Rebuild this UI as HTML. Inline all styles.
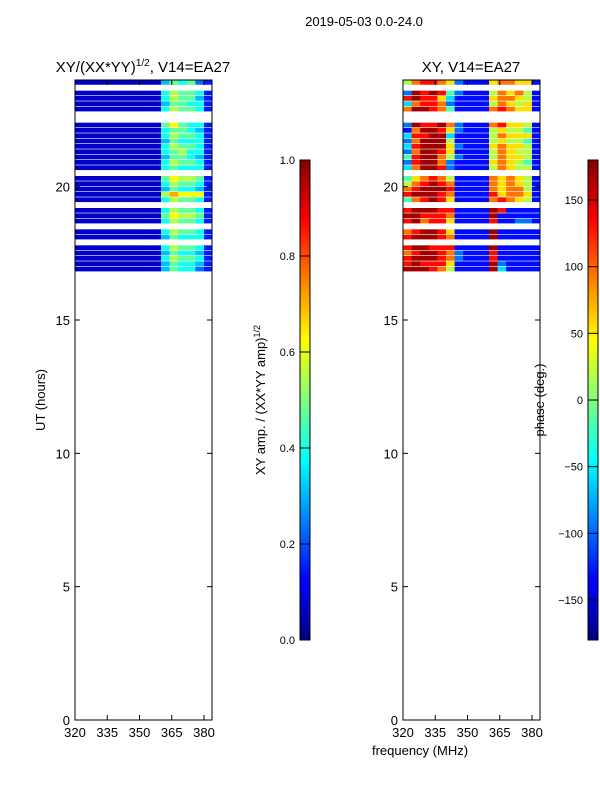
<!DOCTYPE html>
<html><head><meta charset="utf-8"><style>
body{margin:0;background:#fff;width:600px;height:800px;overflow:hidden}
svg text{font-family:"Liberation Sans",sans-serif;fill:#000}
</style></head><body>
<svg id="chart" width="600" height="800">
<text x="364" y="26" font-size="13" text-anchor="middle">2019-05-03 0.0-24.0</text>
<text x="143" y="72" font-size="15" text-anchor="middle">XY/(XX*YY)<tspan font-size="10" dy="-6">1/2</tspan><tspan dy="6">, V14=EA27</tspan></text>
<text x="471" y="72" font-size="15" text-anchor="middle">XY, V14=EA27</text>
<text transform="translate(45,400) rotate(-90)" font-size="13" text-anchor="middle">UT (hours)</text>
<text x="420" y="755" font-size="13" text-anchor="middle">frequency (MHz)</text>
<text transform="translate(265,400) rotate(-90)" font-size="13" text-anchor="middle">XY amp. / (XX*YY amp)<tspan font-size="9" dy="-5">1/2</tspan></text>
<text transform="translate(544,400) rotate(-90)" font-size="13" text-anchor="middle">phase (deg.)</text>
<g id="left"></g>
<g id="right"></g>
<g id="cbars"></g>
</svg>
<script>
const tMax = 24.0, rowHours = 0.2;
const freqStart = 320, chanWidth = 4;
const yTicks = [0, 5, 10, 15, 20];
const xTicks = [320, 335, 350, 365, 380];
const ampTicks = [0.0, 0.2, 0.4, 0.6, 0.8, 1.0];
const phaseTicks = [-150, -100, -50, 0, 50, 100, 150];
// amplitude rows (top = 24h), digit 0-9, g = flagged
const ampRows = ["0000000000354521","g","0000000000465541","0000000000465531","0000000000355441","0000000000465541","g","g",
"0000000000575441","0000000000455431","0000000000465541","0000000000354441","0000000000465541","0000000000456441","0000000000355431","0000000000465541","0000000000454441","g",
"0000000000576651","0000000000465541","0000000000354431","0000000000687771","0000000000465541","g","0000000000465541","0000000000576651","0000000000465541","g",
"0000000000465541","0000000000354441","g","0000000000465541","0000000000354431","0000000000465541","0000000000354431","0000000000354421"];
// phase rows digit 0-9 maps -180..180
const phaseRows = ["5788762111677661","g","2989842111576751","8988631111677651","3788721111576561","7998741111787661","g","g",
"2988972111786651","1799862111565541","3889931111576661","2799951111565541","3899962111676651","2799861111576551","4899752111576651","2899721111676541","3799821111576551","g",
"4678751111767651","5789871111767651","7899981111767751","8999871111867761","4789861111787651","g","8999881111981111","9988871111911111","8978861111811221","g",
"7899861111911111","8999871111911111","g","8998881111911111","7899872111811111","8999872111811111","8988861111921111","9998751111931111"];

function jet(v){v=Math.max(0,Math.min(1,v));
 const c=x=>Math.round(255*Math.max(0,Math.min(1,1.5-Math.abs(4*v-x))));
 return `rgb(${c(3)},${c(2)},${c(1)})`;}
const NS="http://www.w3.org/2000/svg";
function mk(p,tag,a){const e=document.createElementNS(NS,tag);for(const k in a)e.setAttribute(k,a[k]);p.appendChild(e);return e;}

function panel(g,x0,rows,toVal){
 const w=137,top=80,bot=720,pxH=(bot-top)/24;
 const xs=f=>x0+(f-320)*129/60, ys=t=>bot-t*pxH;
 rows.forEach((r,i)=>{ if(r==="g")return;
  const t1=tMax-i*rowHours, t0=t1-rowHours;
  for(let j=0;j<r.length;j++){
   const f0=freqStart+j*chanWidth, f1=f0+chanWidth;
   const e=mk(g,"rect",{x:xs(f0),y:ys(t1),width:Math.min(xs(f1),x0+w)-xs(f0)+0.3,height:ys(t0)-ys(t1)-0.6,fill:jet(toVal(+r[j]))});
   
   
  }});
 mk(g,"rect",{x:x0,y:top,width:w,height:bot-top,fill:"none",stroke:"#000","stroke-width":1});
 yTicks.forEach(t=>{mk(g,"line",{x1:x0,x2:x0+5,y1:ys(t),y2:ys(t),stroke:"#000"});mk(g,"line",{x1:x0+w,x2:x0+w-5,y1:ys(t),y2:ys(t),stroke:"#000"});
  const l=mk(g,"text",{x:x0-5,y:ys(t)+5,"font-size":13,"text-anchor":"end"});l.textContent=t;
  
  });
 xTicks.forEach(f=>{mk(g,"line",{x1:xs(f),x2:xs(f),y1:bot,y2:bot-5,stroke:"#000"});mk(g,"line",{x1:xs(f),x2:xs(f),y1:top,y2:top+5,stroke:"#000"});
  const l=mk(g,"text",{x:xs(f),y:bot+17,"font-size":13,"text-anchor":"middle"});l.textContent=f;
  
  });
}
panel(document.getElementById("left"),75,ampRows,d=>0.07+d/9*0.72);
panel(document.getElementById("right"),403,phaseRows,d=>0.03+d/9*0.94);

function cbar(x,min,max,ticks,fmt){
 const g=document.getElementById("cbars"),top=160,bot=640,n=120;
 for(let i=0;i<n;i++){mk(g,"rect",{x:x,y:bot-(i+1)*(bot-top)/n,width:10,height:(bot-top)/n+0.5,fill:jet((i+0.5)/n)});}
 mk(g,"rect",{x:x,y:top,width:10,height:bot-top,fill:"none",stroke:"#000"});
 ticks.forEach(v=>{const y=bot-(v-min)/(max-min)*(bot-top);
  mk(g,"line",{x1:x,x2:x+10,y1:y,y2:y,stroke:"#000"});
  const l=mk(g,"text",{x:x-5,y:y+4,"font-size":11,"text-anchor":"end"});l.textContent=fmt(v);
  
  });
}
cbar(300,0,1,ampTicks,v=>v.toFixed(1));
cbar(588,-180,180,phaseTicks,v=>v<0?"\u2212"+(-v):""+v);
</script>
</body></html>
